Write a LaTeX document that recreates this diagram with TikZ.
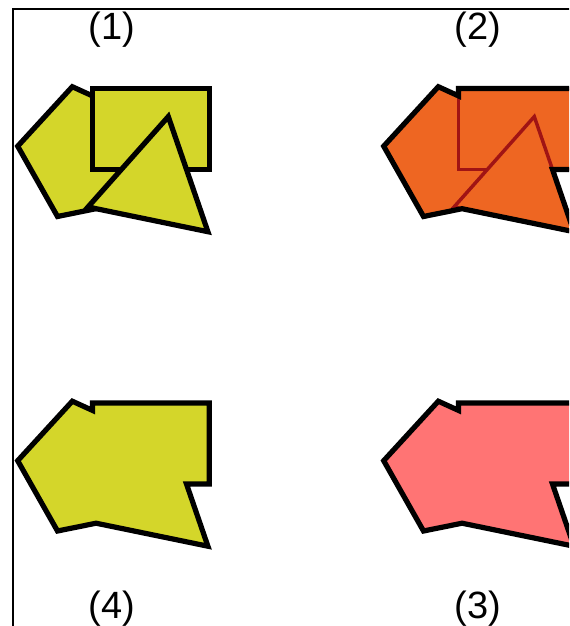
\documentclass[tikz,border=0pt]{standalone}
\usepackage{fontspec}
\setmainfont{Liberation Sans}
\usetikzlibrary{calc}
\definecolor{shapeyellow}{HTML}{D4D62A}
\definecolor{shapeorange}{HTML}{EE6622}
\definecolor{shapepink}{HTML}{FF7474}
\definecolor{edgered}{HTML}{A01414}
% one shape set, in pixel coordinates of the first panel
\newcommand{\pentapath}{(72.3,86.7) -- (17.7,146.2) -- (57.5,216.5) -- (136.7,200.4) -- (145.8,120.2) -- cycle}
\newcommand{\boxpath}{(92.5,88.5) rectangle (209.2,169.5)}
\newcommand{\tripath}{(168.3,116.6) -- (88,207) -- (207.9,231.7) -- cycle}
\newcommand{\unionpath}{(72.3,86.7) -- (17.7,146.2) -- (57.5,216.5) -- (96.1,208.7) -- (207.9,231.7) -- (186.5,169.5) -- (209.2,169.5) -- (209.2,88.5) -- (92.5,88.5) -- (92.5,95.9) -- cycle}
\begin{document}
\begin{tikzpicture}[
      x=0.75pt, y=-0.75pt, line join=miter,
      shp/.style={draw=black, line width=3.9pt},
      inner/.style={draw=edgered, line width=2.6pt},
      outline/.style={draw=black, line width=3.9pt},
      frame/.style={draw=black, line width=1.5pt},
      lbl/.style={font=\fontsize{28.5}{31}\selectfont, inner sep=0pt, anchor=base}]
    \useasboundingbox (0,0) rectangle (569,626);
    \clip (0,0) rectangle (569,626);
    \draw[frame] (12.5,8.5) rectangle (700,700);
    % (1) the three shapes
    \begin{scope}
      \filldraw[shp, fill=shapeyellow] \pentapath;
      \filldraw[shp, fill=shapeyellow] \boxpath;
      \filldraw[shp, fill=shapeyellow] \tripath;
    \end{scope}
    % (2) shapes with inner edges, union outline on top
    \begin{scope}[shift={(366,0)}]
      \filldraw[inner, fill=shapeorange] \pentapath;
      \filldraw[inner, fill=shapeorange] \boxpath;
      \filldraw[inner, fill=shapeorange] \tripath;
      \draw[outline] \unionpath;
    \end{scope}
    % (3) union
    \begin{scope}[shift={(366,314.5)}]
      \filldraw[outline, fill=shapepink] \unionpath;
    \end{scope}
    % (4) union
    \begin{scope}[shift={(0,314.5)}]
      \filldraw[outline, fill=shapeyellow] \unionpath;
    \end{scope}
    \node[lbl] (lab1) at (112,39) {(1)};
    \node[lbl] (lab2) at (478,39) {(2)};
    \node[lbl] (lab3) at (478,618) {(3)};
    \node[lbl] (lab4) at (112,618) {(4)};
\end{tikzpicture}
\end{document}
